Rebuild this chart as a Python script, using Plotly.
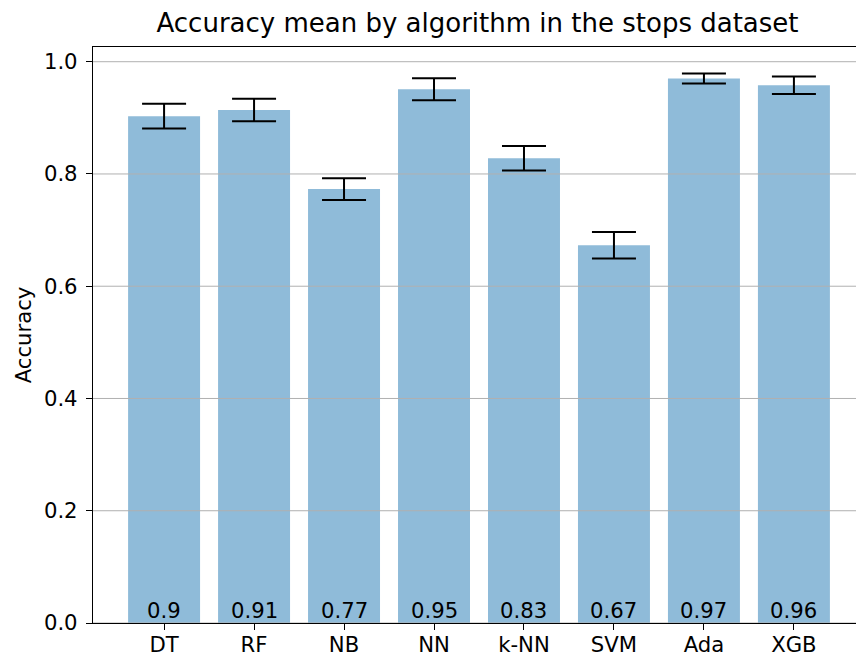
import plotly.graph_objects as go

algorithms = ["DT", "RF", "NB", "NN", "k-NN", "SVM", "Ada", "XGB"]
accuracy_mean = [0.903, 0.914, 0.773, 0.951, 0.828, 0.673, 0.970, 0.958]
accuracy_std = [0.022, 0.020, 0.0195, 0.0195, 0.022, 0.0235, 0.009, 0.0155]
bar_labels = ["0.9", "0.91", "0.77", "0.95", "0.83", "0.67", "0.97", "0.96"]
y_ticks = [0.0, 0.2, 0.4, 0.6, 0.8, 1.0]

FONT = "DejaVu Sans"
TICK_SIZE = 21.2
TITLE_SIZE = 26

fig = go.Figure()
fig.add_trace(go.Bar(
    x=list(range(len(algorithms))),
    y=accuracy_mean,
    width=0.8,
    marker=dict(color="#8fbbd9", line=dict(width=0)),
    error_y=dict(type="data", array=accuracy_std, visible=True,
                 color="black", thickness=2, width=22),
    hoverinfo="skip",
))

for i, lab in enumerate(bar_labels):
    fig.add_annotation(x=i, y=0, text=lab, showarrow=False,
                       xref="x", yref="y", yanchor="bottom", yshift=-2,
                       font=dict(family=FONT, size=TICK_SIZE, color="black"))

for t in y_ticks:
    fig.add_shape(type="line", xref="paper", x0=0, x1=1, yref="y", y0=t, y1=t,
                  line=dict(color="#b0b0b0", width=1), layer="above")

fig.update_layout(
    width=856, height=656,
    margin=dict(l=93, r=0, t=47, b=33, autoexpand=False),
    paper_bgcolor="white", plot_bgcolor="white",
    showlegend=False,
    font=dict(family=FONT, size=TICK_SIZE, color="black"),
    title=dict(text="Accuracy mean by algorithm in the stops dataset",
               x=(93 + 862) / 2 / 856, xanchor="center", y=1 - 23 / 656, yanchor="middle",
               font=dict(family=FONT, size=TITLE_SIZE, color="black")),
    bargap=0.2,
)
fig.update_xaxes(
    range=[-0.79, 7.69], automargin=False,
    tickmode="array", tickvals=list(range(len(algorithms))), ticktext=algorithms,
    showline=True, linecolor="black", linewidth=1.3, mirror=True,
    ticks="outside", ticklen=6, tickcolor="black", tickwidth=1.3,
    ticklabelstandoff=-4,
    showgrid=False, zeroline=False, fixedrange=True,
    tickfont=dict(family=FONT, size=TICK_SIZE, color="black"),
)
fig.update_yaxes(
    range=[0, 1.0262], automargin=False,
    tickmode="array", tickvals=y_ticks, ticktext=[f"{v:.1f}" for v in y_ticks],
    showline=True, linecolor="black", linewidth=1.3, mirror=False,
    ticks="outside", ticklen=6, tickcolor="black", tickwidth=1.3,
    showgrid=False, zeroline=False, fixedrange=True,
    ticklabelstandoff=4,
    tickfont=dict(family=FONT, size=TICK_SIZE, color="black"),
    title=dict(text="Accuracy", standoff=6, font=dict(family=FONT, size=TICK_SIZE, color="black")),
)

fig.write_html("out.html")
